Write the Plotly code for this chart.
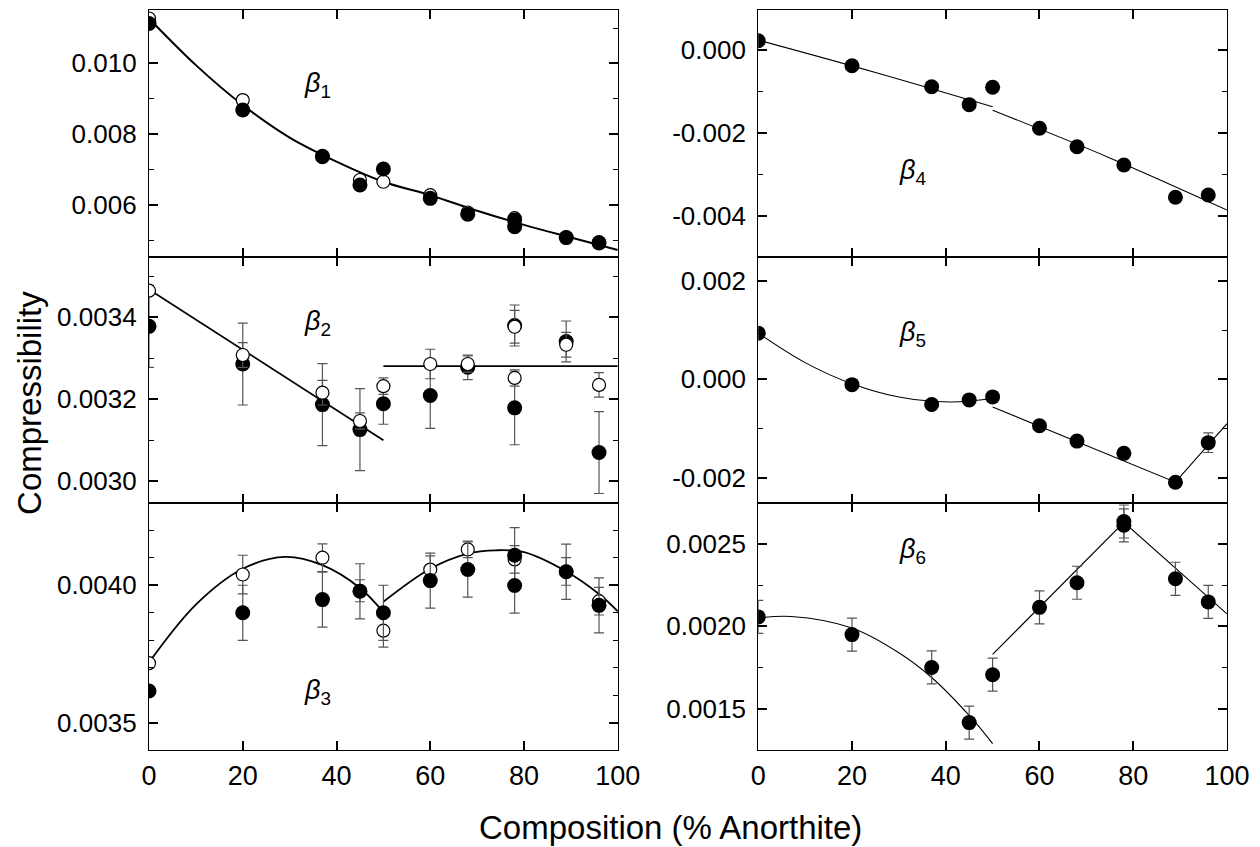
import plotly.graph_objects as go
from plotly.subplots import make_subplots

# ---------------- data ----------------
# beta1
b1_fx = [0, 20, 37, 45, 50, 60, 68, 78, 78, 89, 96]
b1_fy = [0.01113, 0.00868, 0.00736, 0.00656, 0.00701, 0.00618, 0.00573, 0.00557, 0.00538, 0.00507, 0.00492]
b1_ox = [0, 20, 37, 45, 50, 60, 68, 78, 89, 96]
b1_oy = [0.01127, 0.00896, 0.00738, 0.00670, 0.00665, 0.00627, 0.00578, 0.00562, 0.00508, 0.00494]
b1_oe = [0, 0, 0, 0, 0.0001, 0, 0, 0, 0, 0]
b1_fit_x = [0, 10, 20, 30, 40, 50, 60, 70, 80, 90, 100]
b1_fit_y = [0.01127, 0.00995, 0.00882, 0.00790, 0.00722, 0.00665, 0.00627, 0.00583, 0.00543, 0.00507, 0.00472]

# beta2
b2_fx = [0, 20, 37, 45, 50, 60, 68, 78, 78, 89, 96]
b2_fy = [0.003378, 0.003286, 0.003187, 0.003126, 0.003189, 0.003209, 0.003278, 0.003380, 0.003179, 0.003341, 0.003070]
b2_fe = [0.0001, 0.0001, 0.0001, 0.0001, 0.00005, 0.00008, 0.00003, 0.00005, 0.00009, 0.00005, 0.0001]
b2_ox = [0, 20, 37, 45, 50, 60, 68, 78, 78, 89, 96]
b2_oy = [0.003465, 0.003308, 0.003216, 0.003147, 0.003232, 0.003286, 0.003286, 0.003377, 0.003252, 0.003333, 0.003235]
b2_oe = [0, 0.00003, 0.00003, 0.00002, 0.00002, 0.000036, 0.00002, 0.00004, 0.00002, 0.00003, 0.00003]
b2_fitA_x = [0, 50]
b2_fitA_y = [0.003468, 0.003100]
b2_fitB_x = [50, 100]
b2_fitB_y = [0.003281, 0.003281]

# beta3
b3_fx = [0, 20, 37, 45, 50, 60, 68, 78, 78, 89, 96]
b3_fy = [0.003616, 0.003900, 0.003948, 0.003978, 0.003900, 0.004017, 0.004057, 0.004109, 0.003999, 0.004049, 0.003927]
b3_fe = [0, 0.0001, 0.0001, 0.0001, 0.0001, 0.0001, 0.0001, 0.0001, 0.0001, 0.0001, 0.0001]
b3_ox = [0, 20, 37, 45, 50, 60, 68, 78, 89, 96]
b3_oy = [0.003717, 0.004039, 0.004100, 0.003980, 0.003835, 0.004057, 0.004130, 0.004094, 0.004050, 0.003942]
b3_oe = [0, 0.00007, 0.00005, 0.00004, 0.00006, 0.00005, 0.00003, 0.00005, 0.00005, 0.00005]
b3_fitA_x = [0, 10, 20, 29, 37, 45, 50]
b3_fitA_y = [0.003720, 0.003930, 0.004060, 0.004103, 0.004073, 0.003990, 0.003902]
b3_fitB_x = [50, 60, 68, 74, 80, 89, 96, 100]
b3_fitB_y = [0.003940, 0.004060, 0.004115, 0.004127, 0.004120, 0.004050, 0.003968, 0.003905]

# beta4
b4_x = [0, 20, 37, 45, 50, 60, 68, 78, 89, 96]
b4_y = [0.000224, -0.000378, -0.000884, -0.001317, -0.000899, -0.001887, -0.002330, -0.002772, -0.003550, -0.003494]
b4_fitA_x = [0, 25, 50]
b4_fitA_y = [0.000240, -0.000540, -0.001366]
b4_fitB_x = [50, 75, 100]
b4_fitB_y = [-0.001450, -0.002600, -0.003856]

# beta5
b5_x = [0, 20, 37, 45, 50, 60, 68, 78, 89, 96]
b5_y = [0.000939, -0.000107, -0.000512, -0.000418, -0.000356, -0.000943, -0.001255, -0.001504, -0.002091, -0.001287]
b5_e = [0, 0, 0, 0, 0, 0, 0, 0.0001, 0, 0.0002]
b5_fitA_x = [0, 10, 20, 30, 41, 50]
b5_fitA_y = [0.000940, 0.000340, -0.000090, -0.000360, -0.000460, -0.000390]
b5_fitB_x = [50, 89, 100]
b5_fitB_y = [-0.000560, -0.002090, -0.000900]

# beta6
b6_x = [0, 20, 37, 45, 50, 60, 68, 78, 78, 89, 96]
b6_y = [0.002057, 0.001950, 0.001751, 0.001417, 0.001707, 0.002115, 0.002264, 0.002635, 0.002612, 0.002288, 0.002148]
b6_e = [0.0001, 0.0001, 0.0001, 0.0001, 0.0001, 0.0001, 0.0001, 0.0001, 0.0001, 0.0001, 0.0001]
b6_fitA_x = [0, 7, 20, 30, 37, 45, 50]
b6_fitA_y = [0.002050, 0.002060, 0.001990, 0.001840, 0.001690, 0.001460, 0.001290]
b6_fitB_x = [50, 78, 100]
b6_fitB_y = [0.001830, 0.002630, 0.002075]

x_ticks = [0, 20, 40, 60, 80, 100]
x_ticktext = ["0", "20", "40", "60", "80", "100"]

y1_ticks = [0.006, 0.008, 0.010]; y1_text = ["0.006", "0.008", "0.010"]
y2_ticks = [0.0030, 0.0032, 0.0034]; y2_text = ["0.0030", "0.0032", "0.0034"]
y3_ticks = [0.0035, 0.0040]; y3_text = ["0.0035", "0.0040"]
y4_ticks = [-0.004, -0.002, 0.000]; y4_text = ["-0.004", "-0.002", "0.000"]
y5_ticks = [-0.002, 0.000, 0.002]; y5_text = ["-0.002", "0.000", "0.002"]
y6_ticks = [0.0015, 0.0020, 0.0025]; y6_text = ["0.0015", "0.0020", "0.0025"]

labels = ["β", "β", "β", "β", "β", "β"]
subs = ["1", "2", "3", "4", "5", "6"]

# ---------------- figure ----------------
FONT = "Liberation Sans, Arial, sans-serif"
fig = make_subplots(rows=3, cols=2, horizontal_spacing=0.1303, vertical_spacing=0.0)

ERR_COLOR = "#555555"


def filled(x, y, err=None, row=1, col=1, size=15):
    kw = {}
    if err is not None:
        kw["error_y"] = dict(type="data", array=err, visible=True, color=ERR_COLOR, thickness=1.2, width=5)
    fig.add_trace(go.Scatter(x=x, y=y, mode="markers",
                             marker=dict(symbol="circle", size=size, color="black", line=dict(width=0)),
                             showlegend=False, **kw), row=row, col=col)


def opened(x, y, err=None, row=1, col=1, size=13):
    kw = {}
    if err is not None:
        kw["error_y"] = dict(type="data", array=err, visible=True, color=ERR_COLOR, thickness=1.2, width=5)
    fig.add_trace(go.Scatter(x=x, y=y, mode="markers",
                             marker=dict(symbol="circle", size=size, color="white", line=dict(width=1.2, color="black")),
                             showlegend=False, **kw), row=row, col=col)


def fit(x, y, row, col, width=1.0, spline=True):
    fig.add_trace(go.Scatter(x=x, y=y, mode="lines",
                             line=dict(color="black", width=width, shape="spline" if spline else "linear"),
                             showlegend=False, hoverinfo="skip"), row=row, col=col)


# beta1
fit(b1_fit_x, b1_fit_y, 1, 1, width=2)
opened(b1_ox, b1_oy, b1_oe, 1, 1)
filled(b1_fx, b1_fy, None, 1, 1)
# beta2
fit(b2_fitA_x, b2_fitA_y, 2, 1, width=1.8, spline=False)
fit(b2_fitB_x, b2_fitB_y, 2, 1, width=1.8, spline=False)
filled(b2_fx, b2_fy, b2_fe, 2, 1)
opened(b2_ox, b2_oy, b2_oe, 2, 1)
# beta3
fit(b3_fitA_x, b3_fitA_y, 3, 1, width=1.8)
fit(b3_fitB_x, b3_fitB_y, 3, 1, width=1.8)
opened(b3_ox, b3_oy, b3_oe, 3, 1)
filled(b3_fx, b3_fy, b3_fe, 3, 1)
# beta4
fit(b4_fitA_x, b4_fitA_y, 1, 2, width=1.1)
fit(b4_fitB_x, b4_fitB_y, 1, 2, width=1.1)
filled(b4_x, b4_y, None, 1, 2)
# beta5
fit(b5_fitA_x, b5_fitA_y, 2, 2, width=1.1)
fit(b5_fitB_x, b5_fitB_y, 2, 2, width=1.1, spline=False)
filled(b5_x, b5_y, b5_e, 2, 2)
# beta6
fit(b6_fitA_x, b6_fitA_y, 3, 2, width=1.1)
fit(b6_fitB_x, b6_fitB_y, 3, 2, width=1.1, spline=False)
filled(b6_x, b6_y, b6_e, 3, 2)

# axes
yspecs = {
    (1, 1): ([0.00453, 0.01151], y1_ticks, y1_text, 0.001),
    (2, 1): ([0.002946, 0.003548], y2_ticks, y2_text, 0.0001),
    (3, 1): ([0.0034017, 0.0042975], y3_ticks, y3_text, 0.0001),
    (1, 2): ([-0.00498, 0.000964], y4_ticks, y4_text, 0.001),
    (2, 2): ([-0.00252, 0.002494], y5_ticks, y5_text, 0.001),
    (3, 2): ([0.001251, 0.002745], y6_ticks, y6_text, 0.00025),
}
for (r, c), (rng, tv, tt, mdt) in yspecs.items():
    fig.update_yaxes(range=rng, tickmode="array", tickvals=tv, ticktext=tt,
                     ticks="inside", ticklen=9, tickwidth=1.5, tickcolor="black",
                     minor=dict(tickmode="linear", tick0=0, dtick=mdt, ticks="inside", ticklen=5,
                                tickwidth=1.2, tickcolor="black", showgrid=False),
                     showline=True, linecolor="black", linewidth=1.3, mirror="ticks",
                     showgrid=False, zeroline=False,
                     tickfont=dict(family=FONT, size=26, color="black"),
                     ticklabelstandoff=6,
                     row=r, col=c)
    fig.update_xaxes(range=[0, 100], tickmode="array", tickvals=x_ticks, ticktext=x_ticktext,
                     ticks="inside", ticklen=9, tickwidth=1.5, tickcolor="black",
                     showline=True, linecolor="black", linewidth=1.3, mirror="ticks",
                     showgrid=False, zeroline=False, showticklabels=(r == 3),
                     tickfont=dict(family=FONT, size=27, color="black"),
                     ticklabelstandoff=1,
                     row=r, col=c)

# beta labels (data coordinates)
label_pos = [
    ((1, 1), 32.7, 0.00938),
    ((2, 1), 32.7, 0.003386),
    ((3, 1), 32.7, 0.003613),
    ((1, 2), 29.6, -0.00294),
    ((2, 2), 29.6, 0.000925),
    ((3, 2), 29.6, 0.002454),
]
axis_ids = {(1, 1): ("x", "y"), (1, 2): ("x2", "y2"), (2, 1): ("x3", "y3"),
            (2, 2): ("x4", "y4"), (3, 1): ("x5", "y5"), (3, 2): ("x6", "y6")}
for i, ((r, c), xv, yv) in enumerate(label_pos):
    xr, yr = axis_ids[(r, c)]
    fig.add_annotation(x=xv, y=yv, xref=xr, yref=yr, xanchor="left", yanchor="middle",
                       text=f"<i>{labels[i]}</i><sub>{subs[i]}</sub>", showarrow=False,
                       font=dict(family=FONT, size=27, color="black"))

# page has an 8px body margin: figure is placed at (8, 8)
fig.add_annotation(text="Compressibility", x=-0.1104, y=0.469, xref="paper", yref="paper",
                   textangle=-90, showarrow=False, xanchor="center", yanchor="middle",
                   font=dict(family=FONT, size=33, color="black"))
fig.add_annotation(text="Composition (% Anorthite)", x=0.4842, y=-0.1054, xref="paper", yref="paper",
                   showarrow=False, xanchor="center", yanchor="middle",
                   font=dict(family=FONT, size=33, color="black"))

fig.update_layout(width=1252, height=839, margin=dict(l=141, r=33, t=2, b=97),
                  paper_bgcolor="white", plot_bgcolor="white",
                  font=dict(family=FONT, color="black"))

fig.write_html("out.html")
